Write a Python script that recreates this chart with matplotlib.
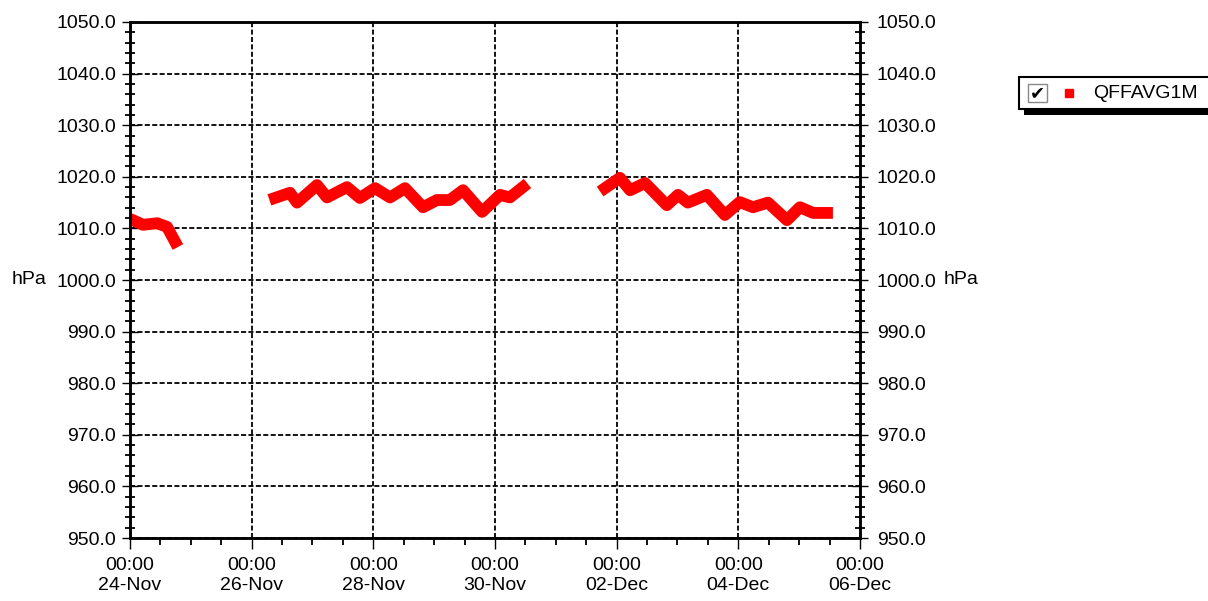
import numpy as np
import pandas as pd
import matplotlib
matplotlib.use("Agg")
import matplotlib.pyplot as plt
import matplotlib.dates as mdates
from matplotlib.patches import Rectangle
from matplotlib.lines import Line2D
from matplotlib.ticker import MultipleLocator, FormatStrFormatter

plt.rcParams['font.family'] = ['Liberation Sans', 'DejaVu Sans']
plt.rcParams['font.size'] = 14

series_name = 'QFFAVG1M'
unit = 'hPa'

# three stretches of readings, gaps between them have no data
seg1_times = ['2023-11-24 00:00', '2023-11-24 01:10', '2023-11-24 05:06', '2023-11-24 10:42',
              '2023-11-24 14:36', '2023-11-24 17:48']
seg1_qff = [1011.8, 1011.6, 1010.7, 1011.0, 1010.3, 1007.4]

seg2_times = ['2023-11-26 09:12', '2023-11-26 15:06', '2023-11-26 17:54', '2023-11-27 01:48',
              '2023-11-27 05:42', '2023-11-27 13:36', '2023-11-27 18:42', '2023-11-28 00:42',
              '2023-11-28 06:36', '2023-11-28 12:30', '2023-11-28 19:36', '2023-11-29 01:06',
              '2023-11-29 06:12', '2023-11-29 11:24', '2023-11-29 18:54', '2023-11-30 02:00',
              '2023-11-30 05:54', '2023-11-30 11:00']
seg2_qff = [1015.9, 1016.9, 1015.0, 1018.4, 1016.0, 1018.0, 1015.9, 1017.8,
            1016.0, 1017.8, 1014.1, 1015.5, 1015.5, 1017.4, 1013.2, 1016.5,
            1016.0, 1018.0]

seg3_times = ['2023-12-01 19:24', '2023-12-02 01:18', '2023-12-02 05:18', '2023-12-02 11:12',
              '2023-12-02 19:48', '2023-12-03 00:12', '2023-12-03 04:06', '2023-12-03 11:36',
              '2023-12-03 18:42', '2023-12-04 00:36', '2023-12-04 05:48', '2023-12-04 11:42',
              '2023-12-04 19:12', '2023-12-05 00:18', '2023-12-05 05:30', '2023-12-05 11:00']
seg3_qff = [1017.8, 1019.8, 1017.4, 1018.8, 1014.5, 1016.5, 1015.0, 1016.5,
            1012.6, 1015.1, 1014.1, 1015.0, 1011.6, 1014.1, 1013.0, 1013.0]

x_start, x_end = '2023-11-24 00:00', '2023-12-06 00:00'
y_min, y_max = 950, 1050

fig = plt.figure(figsize=(12.08, 6.01), dpi=100)
ax = fig.add_axes([0.1076, 0.1048, 0.6043, 0.8586])

for t, v in [(seg1_times, seg1_qff), (seg2_times, seg2_qff), (seg3_times, seg3_qff)]:
    ax.plot(pd.to_datetime(t), v, color='#ff0000', lw=8.5,
            solid_capstyle='projecting', solid_joinstyle='round')

ax.set_xlim(pd.Timestamp(x_start), pd.Timestamp(x_end))
ax.set_ylim(y_min, y_max)

ax.xaxis.set_major_locator(mdates.DayLocator(interval=2))
ax.xaxis.set_minor_locator(mdates.HourLocator(byhour=[0, 12]))
ax.xaxis.set_major_formatter(mdates.DateFormatter('%H:%M\n%d-%b'))
ax.yaxis.set_major_locator(MultipleLocator(10))
ax.yaxis.set_minor_locator(MultipleLocator(2))
ax.yaxis.set_major_formatter(FormatStrFormatter('%.1f'))

ax.grid(which='major', color='black', linestyle=(0, (2.8, 1.3)), lw=1.3)
for s in ax.spines.values():
    s.set_linewidth(1.8)

ax.tick_params(axis='x', which='major', direction='out', length=8, width=1, pad=6)
ax.tick_params(axis='x', which='minor', direction='out', length=5, width=1.3)
ax.tick_params(axis='y', which='major', direction='inout', length=12, width=1, pad=4)
ax.tick_params(axis='y', which='minor', direction='inout', length=7, width=1.3)

ax2 = ax.twinx()
ax2.set_ylim(y_min, y_max)
ax2.yaxis.set_major_locator(MultipleLocator(10))
ax2.yaxis.set_minor_locator(MultipleLocator(2))
ax2.yaxis.set_major_formatter(FormatStrFormatter('%.1f'))
ax2.tick_params(axis='y', which='major', direction='inout', length=12, width=1, pad=6)
ax2.tick_params(axis='y', which='minor', direction='inout', length=7, width=1.3)
for s in ax2.spines.values():
    s.set_linewidth(1.8)

# unit labels on both sides
fig.text(29 / 1208, 1 - 280 / 601, unit, ha='center', va='center')
fig.text(961 / 1208, 1 - 280 / 601, unit, ha='center', va='center')

# legend box with checkbox, drawn like the original widget
fig.add_artist(Rectangle((1024 / 1208, 1 - 115 / 601), 200 / 1208, 34 / 601,
                         transform=fig.transFigure, facecolor='black', edgecolor='none'))
fig.add_artist(Rectangle((1019 / 1208, 1 - 109 / 601), 200 / 1208, 32 / 601,
                         transform=fig.transFigure, facecolor='white', edgecolor='black', lw=1.5))
fig.add_artist(Rectangle((1028 / 1208, 1 - 102 / 601), 19 / 1208, 18 / 601,
                         transform=fig.transFigure, facecolor='white', edgecolor='#888888', lw=1))
fig.text(1037.5 / 1208, 1 - 93.5 / 601, '\u2714', family='DejaVu Sans', fontsize=13,
         fontweight='bold', ha='center', va='center')
fig.add_artist(Line2D([1069 / 1208], [1 - 93 / 601], transform=fig.transFigure,
                      marker='s', markersize=6, color='#ff0000', linestyle='none'))
fig.text(1093 / 1208, 1 - 93 / 601, series_name, ha='left', va='center')

fig.savefig('out.png', dpi=100)
